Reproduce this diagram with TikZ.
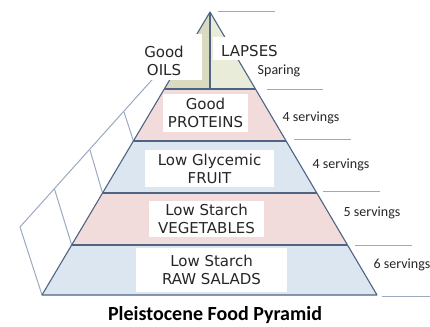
\documentclass[tikz,border=0pt]{standalone}
\usepackage{fontspec}
\setmainfont{DejaVu Sans}
\newfontfamily\calfont{Carlito}
\usetikzlibrary{calc}
\definecolor{pinkf}{HTML}{F2DCDB}
\definecolor{bluef}{HTML}{DCE6F1}
\definecolor{oilf}{HTML}{D9DABF}
\definecolor{lapf}{HTML}{E8ECD8}
\definecolor{edgec}{HTML}{4F6384}
\definecolor{faintc}{HTML}{9AAAC0}
\definecolor{txtc}{HTML}{262626}
\begin{document}
\begin{tikzpicture}[x=1pt,y=-1pt,
  outline/.style={draw=edgec, line width=1.1pt, line join=round},
  faint/.style={draw=faintc, line width=0.8pt},
  sideline/.style={draw=faintc, line width=1pt},
  whitebox/.style={fill=white, inner sep=0pt},
  tierbox/.style={fill=white, inner sep=0pt, align=center, font=\fontsize{15}{18}\selectfont, text=txtc},
  toptext/.style={inner sep=0pt, align=center, font=\fontsize{15}{18}\selectfont, text=txtc},
  serv/.style={font=\calfont\fontsize{14}{16}\selectfont, text=txtc, inner sep=0pt},
]
\useasboundingbox (0,0) rectangle (430,326);
\fill[white] (0,0) rectangle (430,326);

% pyramid corners and tier boundaries
\coordinate (A) at (210,12);
\coordinate (BL) at (42,295);
\coordinate (BR) at (377,295);
\coordinate (L1) at ($(A)!0.2721!(BL)$);
\coordinate (R1) at ($(A)!0.2721!(BR)$);
\coordinate (L2) at ($(A)!0.4558!(BL)$);
\coordinate (R2) at ($(A)!0.4558!(BR)$);
\coordinate (L3) at ($(A)!0.6396!(BL)$);
\coordinate (R3) at ($(A)!0.6396!(BR)$);
\coordinate (L4) at ($(A)!0.8233!(BL)$);
\coordinate (R4) at ($(A)!0.8233!(BR)$);
\coordinate (M1) at (210,89);

% tier fills
\fill[oilf] (A) -- (L1) -- (M1) -- cycle;
\fill[lapf] (A) -- (M1) -- (R1) -- cycle;
\fill[pinkf] (L1) -- (R1) -- (R2) -- (L2) -- cycle;
\fill[bluef] (L2) -- (R2) -- (R3) -- (L3) -- cycle;
\fill[pinkf] (L3) -- (R3) -- (R4) -- (L4) -- cycle;
\fill[bluef] (L4) -- (R4) -- (BR) -- (BL) -- cycle;

% side face
\coordinate (O0) at (20,227);
\coordinate (D1) at (159,72);
\coordinate (D2) at (124,112);
\coordinate (D3) at (90,150);
\coordinate (D4) at (54.5,189);
\draw[sideline] (BL) -- (O0) -- (D1);
\draw[sideline] (L2) -- (D2);
\draw[sideline] (L3) -- (D3);
\draw[sideline] (L4) -- (D4);

% outline
\draw[outline] (BL) -- (A) -- (BR) -- cycle;
\draw[outline] (L1) -- (R1);
\draw[outline] (L2) -- (R2);
\draw[outline] (L3) -- (R3);
\draw[outline] (L4) -- (R4);
\draw[draw=edgec, line width=1.3pt] (A) -- (M1);

% right-hand rules
\coordinate (h0a) at (218,11);  \coordinate (h0b) at (275,11);
\coordinate (h1a) at (267,89);  \coordinate (h1b) at (323,89);
\coordinate (h2a) at (294,139); \coordinate (h2b) at (351,139);
\coordinate (h3a) at (323,191); \coordinate (h3b) at (380,191);
\coordinate (h4a) at (355,245); \coordinate (h4b) at (412,245);
\coordinate (h5a) at (382,296); \coordinate (h5b) at (430,296);
\draw[faint] (h0a) -- (h0b);
\draw[faint] (h1a) -- (h1b);
\draw[faint] (h2a) -- (h2b);
\draw[faint] (h3a) -- (h3b);
\draw[faint] (h4a) -- (h4b);
\draw[faint] (h5a) -- (h5b);

% top labels
\node[whitebox, minimum width=76, minimum height=46] (oilsbox) at (164,57) {};
\node[toptext] (oils) at (164,61) {Good\\OILS};
\node[whitebox, minimum width=70, minimum height=23] (lapbox) at (248,48.5) {};
\node[toptext] (lapses) at (249.5,51) {LAPSES};

% tier labels
\node[tierbox, minimum width=85, minimum height=38] (prot) at (205.5,113) {Good\\PROTEINS};
\node[tierbox, minimum width=129, minimum height=37] (fruit) at (209.5,168.5) {Low Glycemic\\FRUIT};
\node[tierbox, minimum width=115, minimum height=36] (veg) at (206.5,219) {Low Starch\\VEGETABLES};
\node[tierbox, minimum width=151, minimum height=44] (salad) at (211.5,270) {Low Starch\\RAW SALADS};

% servings
\node[serv] (s0) at (279,71) {Sparing};
\node[serv] (s1) at (311,118) {4 servings};
\node[serv] (s2) at (341,165) {4 servings};
\node[serv] (s3) at (372,213) {5 servings};
\node[serv] (s4) at (402,265) {6 servings};

% title
\node[font=\calfont\bfseries\fontsize{20}{24}\selectfont, text=black, inner sep=0pt] (title) at (215,315) {Pleistocene Food Pyramid};
\end{tikzpicture}
\end{document}
